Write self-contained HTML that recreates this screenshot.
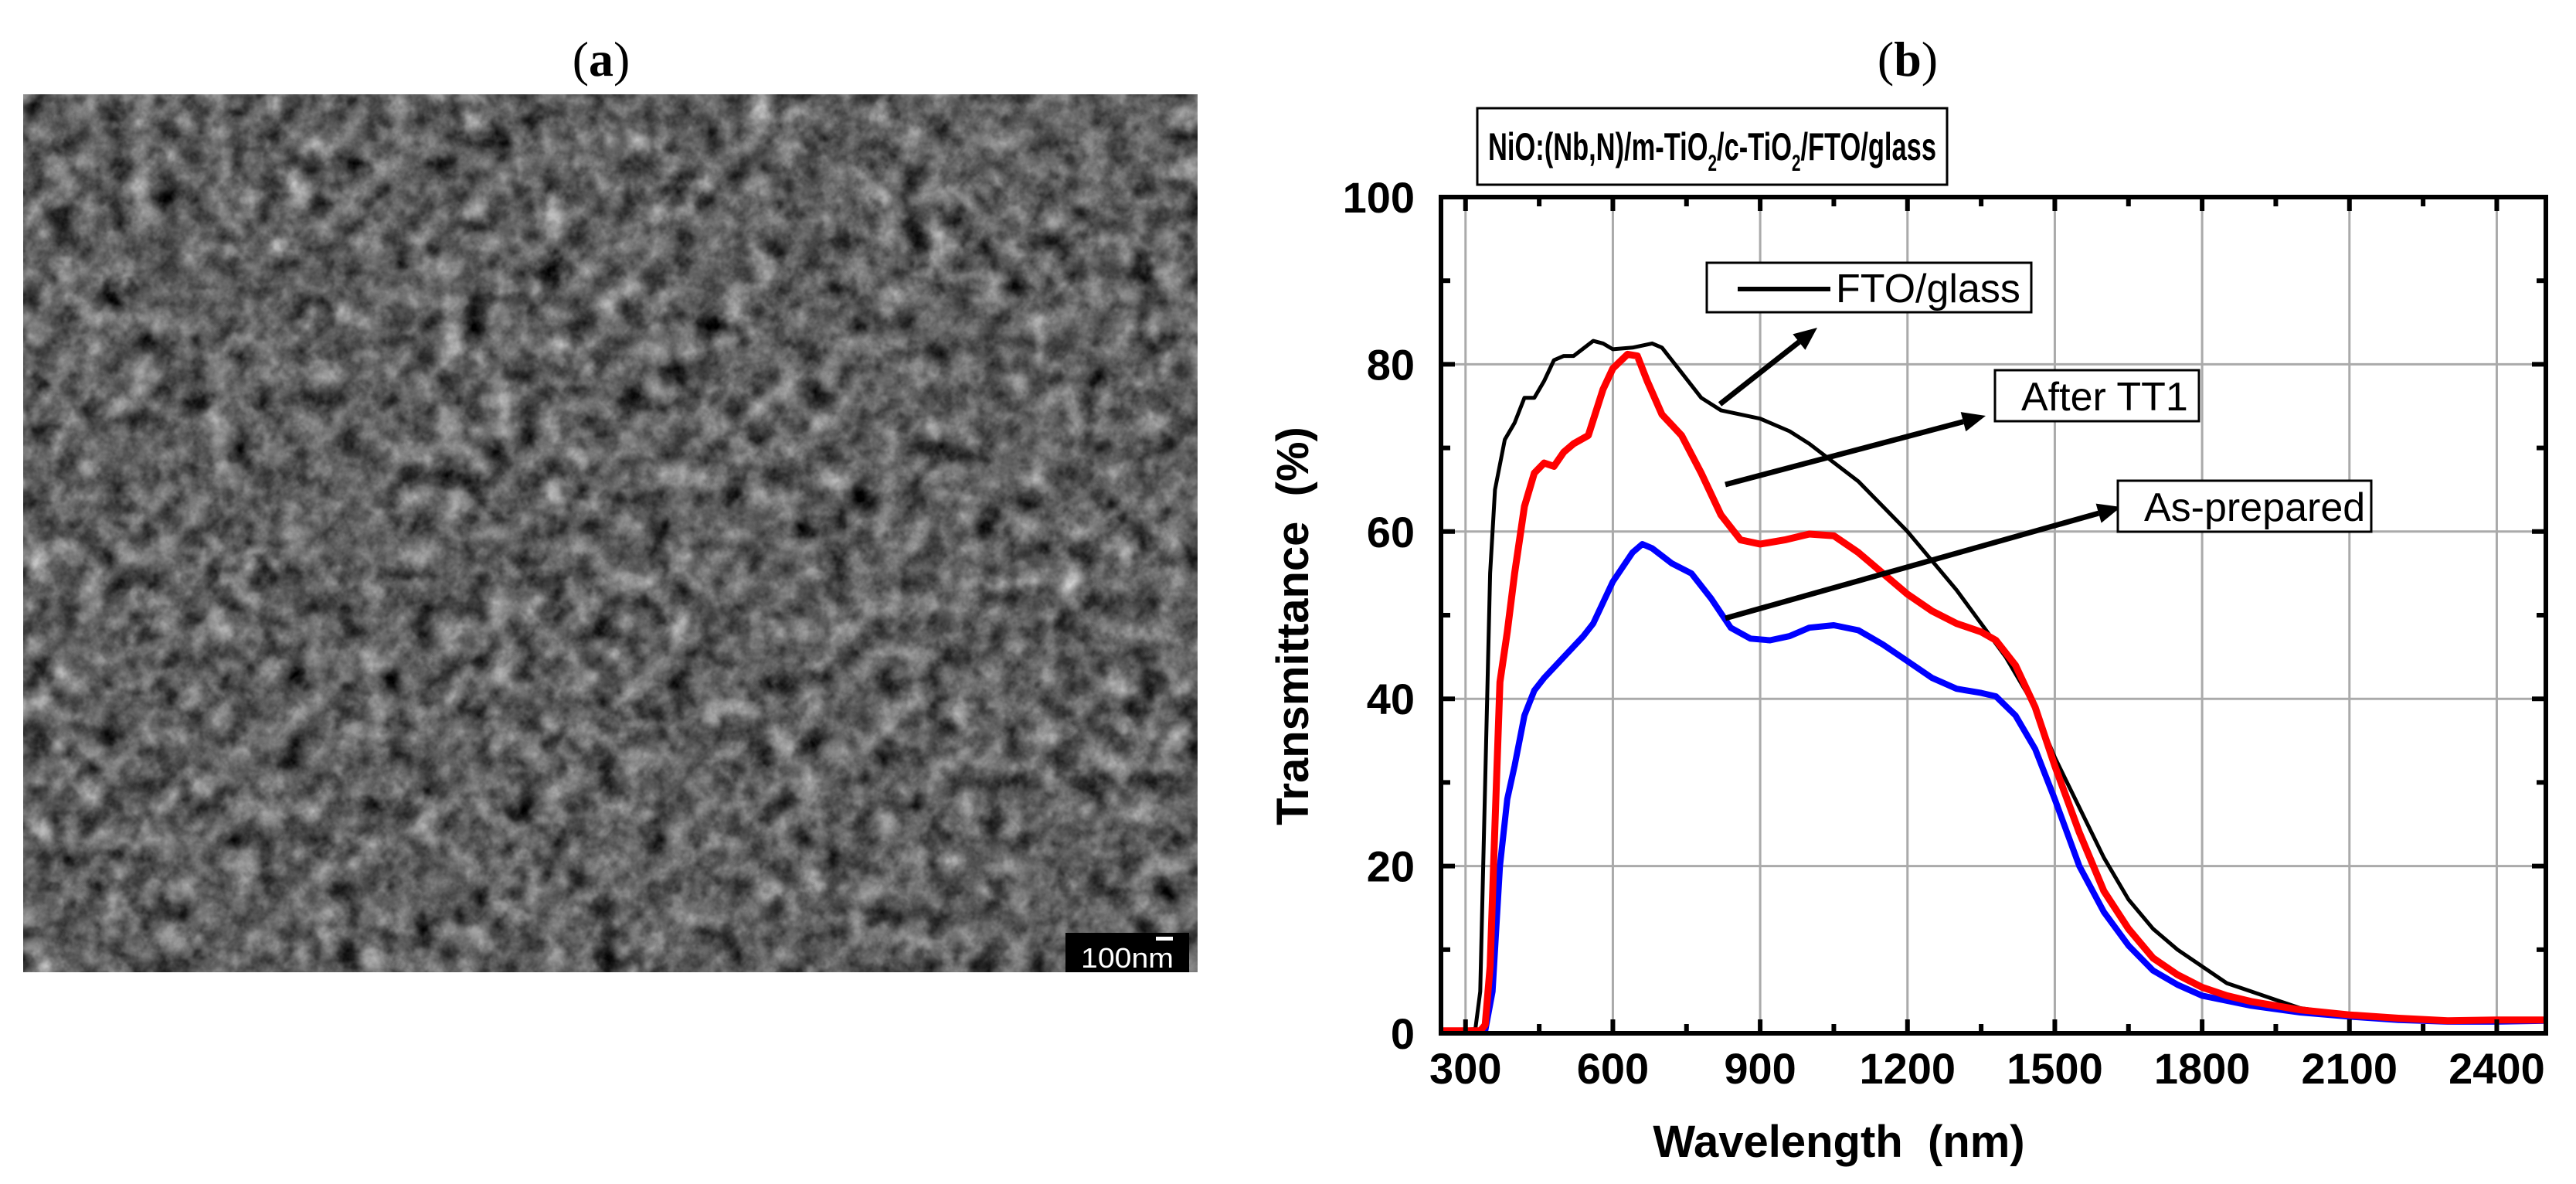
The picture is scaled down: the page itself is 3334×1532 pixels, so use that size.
<!DOCTYPE html>
<html><head><meta charset="utf-8"><style>
html,body{margin:0;padding:0;background:#fff;}
svg{display:block;}
</style></head><body>
<svg id="root" width="3334" height="1532" viewBox="0 0 3334 1532" xmlns="http://www.w3.org/2000/svg">
<defs>
<filter id="sem" x="0" y="0" width="100%" height="100%" color-interpolation-filters="sRGB">
<feTurbulence type="fractalNoise" baseFrequency="0.03" numOctaves="4" seed="7" result="n"/>
<feColorMatrix type="matrix" values="0.33 0.33 0.33 0 0  0.33 0.33 0.33 0 0  0.33 0.33 0.33 0 0  0 0 0 0 1" in="n" result="g"/>
<feComponentTransfer in="g"><feFuncR type="linear" slope="1.5" intercept="-0.37"/><feFuncG type="linear" slope="1.5" intercept="-0.37"/><feFuncB type="linear" slope="1.5" intercept="-0.37"/></feComponentTransfer>
</filter>
</defs>
<text x="778" y="98" text-anchor="middle" font-family="Liberation Serif, serif" font-size="64">(<tspan font-weight="bold">a</tspan>)</text>
<g>
<rect x="30" y="122" width="1520" height="1136" fill="#5e5e5e"/>
<rect x="30" y="122" width="1520" height="1136" filter="url(#sem)"/>
<rect x="1379" y="1207" width="160" height="51" fill="#000"/>
<rect x="1496" y="1212" width="22" height="5" fill="#fff"/>
<text x="1459" y="1252" text-anchor="middle" font-family="Liberation Sans, sans-serif" font-size="36" fill="#fff" textLength="120" lengthAdjust="spacingAndGlyphs">100nm</text>
</g>
<text x="2469" y="98" text-anchor="middle" font-family="Liberation Serif, serif" font-size="64">(<tspan font-weight="bold">b</tspan>)</text>
<g>
<rect x="1912" y="140" width="608" height="99" fill="#fff" stroke="#000" stroke-width="3"/>
<text x="2216" y="207" text-anchor="middle" font-family="Liberation Sans, sans-serif" font-weight="bold" font-size="50" textLength="580" lengthAdjust="spacingAndGlyphs">NiO:(Nb,N)/m-TiO<tspan font-size="30" dy="14">2</tspan><tspan dy="-14">/c-TiO</tspan><tspan font-size="30" dy="14">2</tspan><tspan dy="-14">/FTO/glass</tspan></text>
</g>
<g id="chart"></g>
</svg>
<script>
const categoriesNm = [250,320,330,340,350,360,380,400,420,440,460,480,500,520,560,580,600,640,680,700,740,780,820,860,900,960,1000,1100,1200,1300,1350,1400,1450,1500,1550,1600,1650,1700,1750,1800,1850,1900,1950,2000,2100,2200,2300,2400,2500];
const ftoValues = [0.3,0.5,5,30,55,65,71,73,76,76,78,80.5,81,81,82.8,82.5,81.8,82,82.5,82,79,76,74.5,74,73.5,72,70.5,66,60,53,49,45,40,33,27,21,16,12.5,10,8,6,5,4,3,2.2,1.7,1.5,1.5,1.5];
const tt1Nm = [250,330,340,350,360,370,385,400,420,440,460,480,500,520,550,580,600,630,650,670,700,740,780,820,860,900,950,1000,1050,1100,1150,1200,1250,1300,1350,1380,1420,1460,1500,1550,1600,1650,1700,1750,1800,1850,1900,2000,2100,2200,2300,2400,2500];
const tt1Values = [0.3,0.3,1,8,25,42,48,55,63,67,68.2,67.8,69.5,70.5,71.5,77,79.5,81.2,81,78,74,71.5,67,62,59,58.5,59,59.7,59.5,57.5,55,52.5,50.5,49,48,47,44,39,32,24,17,12.5,9,7,5.5,4.5,3.8,2.8,2.2,1.8,1.5,1.6,1.6];
const asNm = [250,340,355,370,385,400,420,440,460,500,540,560,600,640,660,680,720,760,800,840,880,920,960,1000,1050,1100,1150,1200,1250,1300,1350,1380,1420,1460,1500,1550,1600,1650,1700,1750,1800,1900,2000,2100,2200,2300,2400,2500];
const asValues = [0.3,0.3,5,20,28,32,38,41,42.5,45,47.5,49,54,57.5,58.5,58,56.2,55,52,48.5,47.2,47,47.5,48.5,48.8,48.2,46.5,44.5,42.5,41.2,40.7,40.3,38,34,28,20,14.5,10.5,7.5,5.8,4.5,3.3,2.5,2,1.6,1.4,1.4,1.5];
const xTicks = [300,600,900,1200,1500,1800,2100,2400];
const yTicks = [0,20,40,60,80,100];

const NS='http://www.w3.org/2000/svg';
const L=1865,R=3295,T=255,B=1337,X0=250,X1=2500;
const sx=v=>L+(v-X0)/(X1-X0)*(R-L);
const sy=v=>B-v/100*(B-T);
const g=document.getElementById('chart');
function mk(tag,at,parent){const e=document.createElementNS(NS,tag);for(const k in at)e.setAttribute(k,at[k]);(parent||g).appendChild(e);return e;}

xTicks.forEach(v=>{const e=mk('line',{x1:sx(v),x2:sx(v),y1:T,y2:B,stroke:'#aaa','stroke-width':3});

});
yTicks.forEach(v=>{if(v===0||v===100)return;const e=mk('line',{x1:L,x2:R,y1:sy(v),y2:sy(v),stroke:'#aaa','stroke-width':3});

});

function series(xs,ys,color,w,name){const d=xs.map((x,i)=>(i?'L':'M')+sx(x).toFixed(1)+','+sy(ys[i]).toFixed(1)).join(' ');
const p=mk('path',{d:d,fill:'none',stroke:color,'stroke-width':w,'stroke-linejoin':'round'});

}
series(categoriesNm,ftoValues,'#000',5,'series-fto-glass');
series(asNm,asValues,'#0000ff',8,'series-as-prepared');
series(tt1Nm,tt1Values,'#ff0000',9,'series-after-tt1');

for(let v=300;v<=2400;v+=150){const maj=(v%300===0);const len=maj?18:12;
[[B,-1],[T,1]].forEach(([y,s])=>{const t=mk('line',{x1:sx(v),x2:sx(v),y1:y,y2:y+s*len,stroke:'#000','stroke-width':6});

});}
for(let v=10;v<100;v+=10){const len=(v%20===0)?18:12;
[[L,1],[R,-1]].forEach(([x,s])=>{const t=mk('line',{x1:x,x2:x+s*len,y1:sy(v),y2:sy(v),stroke:'#000','stroke-width':6});

});}
const frame=mk('rect',{x:L,y:T,width:R-L,height:B-T,fill:'none',stroke:'#000','stroke-width':6});



xTicks.forEach(v=>{const t=mk('text',{x:sx(v),y:1402,'text-anchor':'middle','font-family':'Liberation Sans, sans-serif','font-weight':'bold','font-size':56});
t.textContent=v;

});
yTicks.forEach(v=>{const t=mk('text',{x:1831,y:sy(v)+20,'text-anchor':'end','font-family':'Liberation Sans, sans-serif','font-weight':'bold','font-size':56});
t.textContent=v;

});
const xt=mk('text',{x:2380,y:1497,'text-anchor':'middle','font-family':'Liberation Sans, sans-serif','font-weight':'bold','font-size':58});
xt.textContent='Wavelength\u00a0\u00a0(nm)';


const yt=mk('text',{x:0,y:0,'text-anchor':'middle','font-family':'Liberation Sans, sans-serif','font-weight':'bold','font-size':58,transform:'translate(1693,810) rotate(-90)'});
yt.textContent='Transmittance\u00a0\u00a0(%)';



function arrow(x1,y1,x2,y2,name){const a=Math.atan2(y2-y1,x2-x1),h=30,w=13;
const bx=x2-h*Math.cos(a),by=y2-h*Math.sin(a);
const ln=mk('line',{x1:x1,y1:y1,x2:bx,y2:by,stroke:'#000','stroke-width':7});


const hd=mk('polygon',{points:`${x2},${y2} ${bx-w*Math.sin(a)},${by+w*Math.cos(a)} ${bx+w*Math.sin(a)},${by-w*Math.cos(a)}`,fill:'#000'});

}
arrow(2226,523,2352,424,'arrow-fto');
arrow(2233,627,2570,538,'arrow-tt1');
arrow(2233,800,2745,656,'arrow-as-prepared');

function legend(x,y,w,h,label,tx,name,withLine){const grp=mk('g',{});


mk('rect',{x:x,y:y,width:w,height:h,fill:'#fff',stroke:'#000','stroke-width':3},grp);
if(withLine)mk('line',{x1:x+40,x2:x+160,y1:y+h/2+2,y2:y+h/2+2,stroke:'#000','stroke-width':6},grp);
const t=mk('text',{x:tx,y:y+h/2+19,'font-family':'Liberation Sans, sans-serif','font-size':52},grp);t.textContent=label;}
legend(2209,340,420,64,'FTO/glass',2376,'legend-fto-glass',true);
legend(2582,479,264,66,'After TT1',2616,'legend-after-tt1',false);
legend(2741,622,328,66,'As-prepared',2775,'legend-as-prepared',false);
</script>
</body></html>
